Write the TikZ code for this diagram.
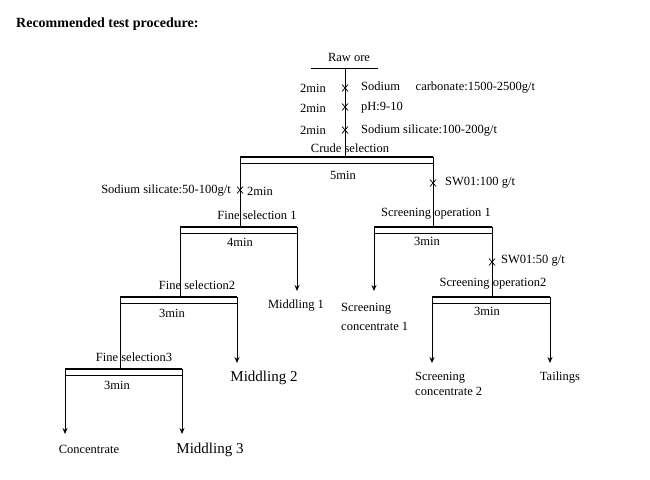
\documentclass[tikz,border=0pt]{standalone}
\usepackage{fontspec}
\usetikzlibrary{arrows.meta}
\setmainfont{Liberation Serif}
\begin{document}
\begin{tikzpicture}[x=1pt,y=-1pt,
  lbl/.style={font=\fontsize{12.5}{13}\selectfont,inner sep=0pt},
  big/.style={font=\fontsize{15}{16}\selectfont,inner sep=0pt},
  ln/.style={line width=0.8pt},
  arr/.style={line width=0.8pt,-{Stealth[length=6pt,width=5pt]}}]
\useasboundingbox (0,0) rectangle (650,479);
\node[anchor=west,font=\bfseries\fontsize{14}{15}\selectfont,inner sep=0pt] (title) at (16,24) {Recommended test procedure:};
\newcommand{\xmark}[2]{\draw[line width=0.7pt] (#1-3,#2-3.5)--(#1+3,#2+3.5) (#1+3,#2-3.5)--(#1-3,#2+3.5);}
\newcommand{\opbar}[3]{\draw[line width=2.5pt] (#1,#3)--(#2,#3); \draw[line width=0.6pt] (#1,#3+6)--(#2,#3+6);}
% raw ore
\node[lbl] (raw) at (349,57) {Raw ore};
\draw[ln] (311,68)--(378,68);
\coordinate (r0) at (345,68); \coordinate (r1) at (345,157);
\draw[ln] (r0)--(r1);
\xmark{345}{88}\xmark{345}{107}\xmark{345}{130}
\node[lbl,anchor=east] (t1) at (326,88) {2min};
\node[lbl,anchor=east] (t2) at (326,108) {2min};
\node[lbl,anchor=east] (t3) at (326,130) {2min};
\node[lbl,anchor=west] (a1) at (361,88) {Sodium\quad\ carbonate:1500-2500g/t};
\node[lbl,anchor=west] (a2) at (361,108) {pH:9-10};
\node[lbl,anchor=west] (a3) at (361,131) {Sodium silicate:100-200g/t};
% crude
\node[lbl] (crude) at (350,148) {Crude selection};
\opbar{240}{433}{157}
\node[lbl] (m5) at (343,175) {5min};
\draw[ln] (240,157)--(240,227);
\draw[ln] (433,157)--(433,227);
\xmark{240}{190}\xmark{433}{183}
\node[lbl,anchor=east] (s50) at (231,191) {Sodium silicate:50-100g/t};
\node[lbl,anchor=west] (m2) at (247,191) {2min};
\node[lbl,anchor=west] (sw1) at (445,183) {SW01:100 g/t};
% fine selection 1
\node[lbl] (f1) at (257,215) {Fine selection 1};
\opbar{180}{297}{227}
\node[lbl] (m4) at (240,242) {4min};
\draw[ln] (180,227)--(180,297);
\draw[arr] (297,227)--(297,291);
\node[lbl] (mid1) at (296,306) {Middling 1};
% screening op 1
\node[lbl] (s1) at (436,214) {Screening operation 1};
\opbar{374}{492}{227}
\node[lbl] (m3a) at (427,241) {3min};
\draw[arr] (374,227)--(374,291);
\draw[ln] (492,227)--(492,297);
\xmark{492}{262}
\node[lbl,anchor=west] (sw2) at (501,261) {SW01:50 g/t};
\node[lbl,anchor=west,align=left] (sc1) at (341,317) {Screening\\[6pt]concentrate 1};
% fine selection 2
\node[lbl] (f2) at (197,285) {Fine selection2};
\opbar{120}{237}{297}
\node[lbl] (m3b) at (172,313) {3min};
\draw[ln] (120,297)--(120,369);
\draw[arr] (237,297)--(237,363);
\node[big] (mid2) at (264,378) {Middling 2};
% screening op 2
\node[lbl] (s2) at (493,284) {Screening operation2};
\opbar{432}{550}{297}
\node[lbl] (m3c) at (487,311) {3min};
\draw[arr] (432,297)--(432,363);
\draw[arr] (550,297)--(550,363);
\node[lbl,anchor=west,align=left] (sc2) at (415,384) {Screening\\[2pt]concentrate 2};
\node[lbl] (tail) at (560,378) {Tailings};
% fine selection 3
\node[lbl] (f3) at (134,357) {Fine selection3};
\opbar{65}{182}{369}
\node[lbl] (m3d) at (117,385) {3min};
\draw[arr] (65,369)--(65,434);
\draw[arr] (182,369)--(182,434);
\node[lbl] (conc) at (89,449) {Concentrate};
\node[big] (mid3) at (210,450) {Middling 3};
\end{tikzpicture}
\end{document}
